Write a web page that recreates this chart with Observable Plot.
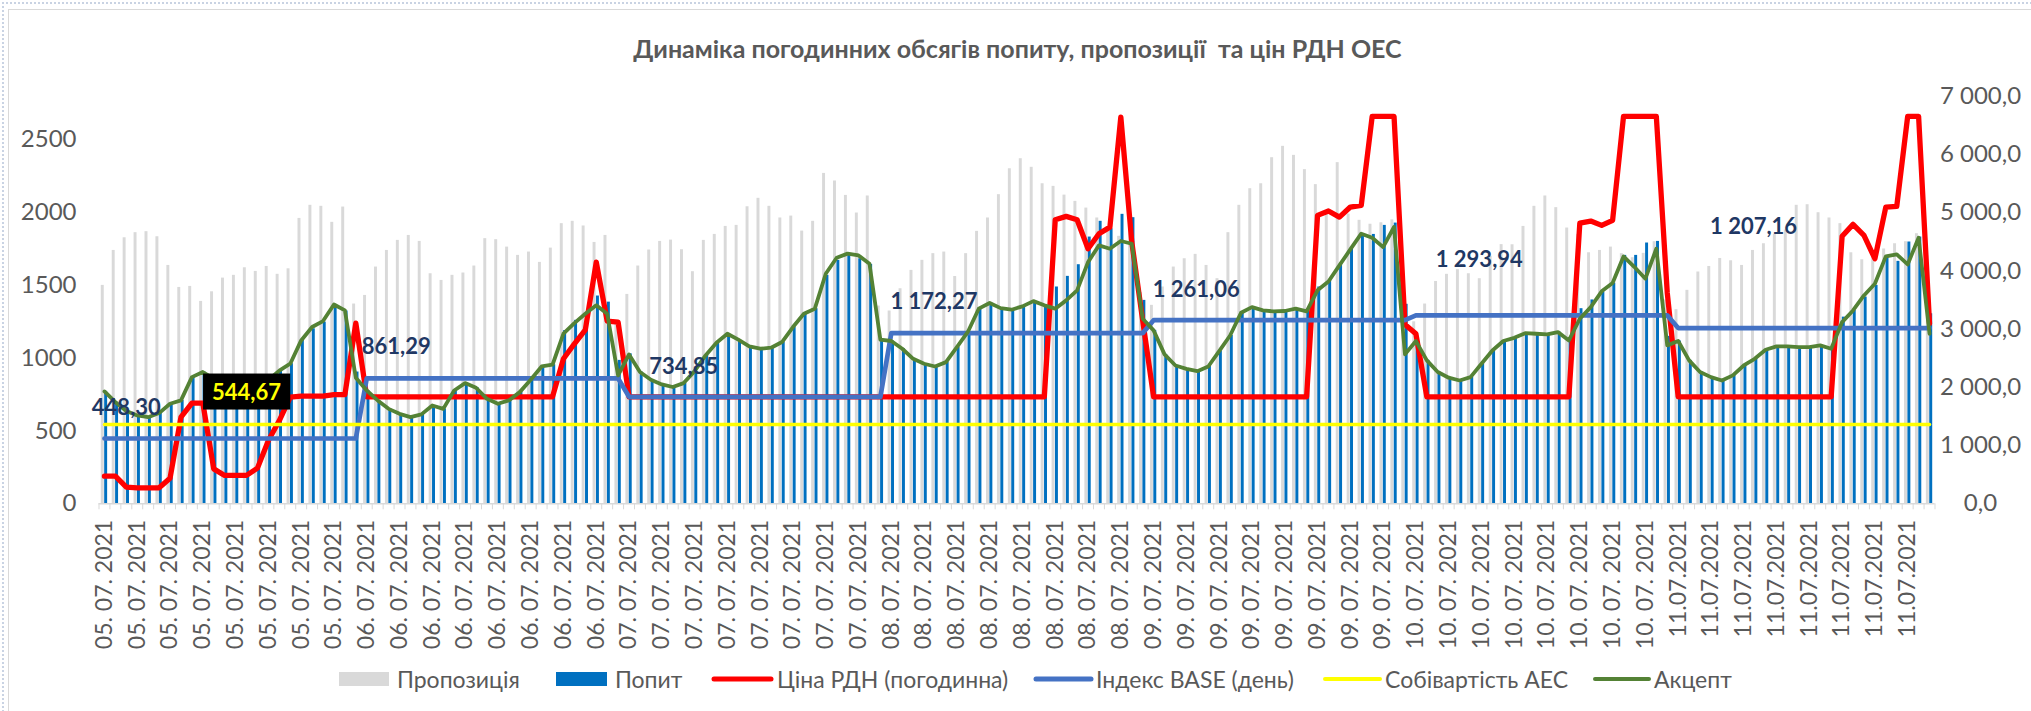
<!DOCTYPE html>
<html>
<head>
<meta charset="utf-8">
<script src="https://cdn.jsdelivr.net/npm/d3@7"></script>
<script src="https://cdn.jsdelivr.net/npm/@observablehq/plot@0.6"></script>
<style>
  html, body { margin: 0; padding: 0; background: #fff; overflow: hidden; }
  #wrap { position: relative; width: 2031px; height: 711px; font-family: Lato, "Open Sans", sans-serif; color: #595959; }
  #outer { position: absolute; left: 2px; top: 2px; width: 2040px; height: 720px; border-top: 2px dotted #c9d3e3; border-left: 2px dotted #c9d3e3; }
  #frame { position: absolute; left: 8px; top: 9px; width: 2040px; height: 720px; border-top: 1.5px solid #d9d9d9; border-left: 1.5px solid #d9d9d9; }
  #title { position: absolute; left: 0; width: 2035px; top: 33px; line-height: 30px; text-align: center; font-weight: bold; font-size: 25px; color: #595959; white-space: pre; }
  #chart { position: absolute; left: 0; top: 0; }
  #legend { position: absolute; left: 0; top: 0; }
</style>
</head>
<body>
<div id="wrap">
  <div id="outer"></div>
  <div id="frame"></div>
  <div id="chart"></div>
  <div id="title">Динаміка погодинних обсягів попиту, пропозиції  та цін РДН ОЕС</div>
  <svg id="legend" width="2031" height="711" style="font-family: Lato, 'Open Sans', sans-serif; font-size: 23px; fill: #595959;">
    <rect x="339" y="672" width="50" height="14" fill="#d9d9d9"></rect>
    <text x="397" y="679" dominant-baseline="central">Пропозиція</text>
    <rect x="556" y="672" width="51" height="14" fill="#0070c0"></rect>
    <text x="615" y="679" dominant-baseline="central">Попит</text>
    <line x1="714" x2="771" y1="679" y2="679" stroke="#ff0000" stroke-width="5" stroke-linecap="round"></line>
    <text x="777" y="679" dominant-baseline="central">Ціна РДН (погодинна)</text>
    <line x1="1036" x2="1091" y1="679" y2="679" stroke="#4472c4" stroke-width="5" stroke-linecap="round"></line>
    <text x="1096" y="679" dominant-baseline="central">Індекс BASE (день)</text>
    <line x1="1325" x2="1380" y1="679" y2="679" stroke="#ffff00" stroke-width="4" stroke-linecap="round"></line>
    <text x="1385" y="679" dominant-baseline="central">Собівартість АЕС</text>
    <line x1="1595" x2="1649" y1="679" y2="679" stroke="#548235" stroke-width="4" stroke-linecap="round"></line>
    <text x="1654" y="679" dominant-baseline="central">Акцепт</text>
  </svg>
</div>
<script>
// ---------- DATA ----------
const dayLabels = ["05. 07. 2021", "06. 07. 2021", "07. 07. 2021", "08. 07. 2021", "09. 07. 2021", "10. 07. 2021", "11.07.2021"];

// Пропозиція (supply), hourly
const supply = [
  1500,1740,1827,1862,1869,1834,1637,1486,1493,1390,1456,1550,1569,1621,1596,1630,1576,1614,1960,2050,2043,1933,2038,1372,
  1431,1626,1740,1809,1843,1802,1580,1534,1569,1585,1633,1821,1814,1763,1706,1729,1658,1756,1924,1940,1908,1795,1843,1250,
  1438,1633,1743,1802,1811,1745,1594,1809,1850,1905,1912,2040,2098,2043,1963,1976,1873,1940,2269,2217,2118,1997,2114,1358,
  1324,1477,1603,1672,1718,1729,1561,1718,1871,1963,2123,2301,2370,2311,2198,2180,2120,2077,2031,1963,1889,1837,2000,1450,
  1363,1489,1626,1683,1713,1637,1546,1862,2050,2164,2198,2377,2455,2393,2295,2192,2000,2343,1990,1947,1920,1930,1950,1370,
  1250,1372,1527,1576,1608,1580,1546,1700,1780,1779,1905,2043,2114,2034,1894,1850,1724,1740,1763,1718,1690,1720,1800,1400,
  1333,1466,1592,1630,1685,1669,1637,1740,1786,1850,1880,2050,2054,1999,1963,1924,1724,1676,1700,1750,1786,1800,1855,1305
];

// Попит (demand), hourly
const demand = [
  772,698,637,607,595,623,687,710,870,905,860,830,800,790,810,850,915,962,1122,1202,1248,1351,1324,905,
  778,710,652,618,595,614,675,652,778,829,797,721,687,710,767,852,943,955,1190,1260,1250,1427,1385,985,
  1030,905,852,820,802,829,911,1019,1106,1168,1127,1081,1065,1072,1111,1214,1305,1340,1569,1672,1706,1683,1644,1122,
  1118,1065,996,962,943,973,1076,1180,1340,1379,1344,1333,1356,1392,1363,1489,1562,1642,1832,1940,1889,1988,1965,1397,
  1191,1026,950,927,911,943,1049,1156,1312,1351,1328,1321,1324,1340,1321,1489,1534,1644,1750,1855,1850,1912,1928,1370,
  1118,985,905,866,847,870,962,1053,1118,1140,1172,1168,1163,1179,1122,1340,1400,1454,1516,1706,1706,1791,1802,1150,
  1118,985,905,870,847,882,950,996,1058,1081,1081,1076,1076,1088,1065,1282,1328,1420,1500,1699,1665,1798,1832,1305
];

// Ціна РДН (погодинна), hourly
const price = [
  190,190,115,110,110,110,176,595,692,692,240,195,195,195,245,435,572,733,740,740,740,750,750,1241,
  735,735,735,735,735,735,735,735,735,735,735,735,735,735,735,735,735,735,996,1099,1195,1660,1255,1248,
  735,735,735,735,735,735,735,735,735,735,735,735,735,735,735,735,735,735,735,735,735,735,735,735,
  735,735,735,735,735,735,735,735,735,735,735,735,735,735,735,1951,1974,1951,1752,1855,1900,2656,1800,1260,
  735,735,735,735,735,735,735,735,735,735,735,735,735,735,735,1981,2011,1969,2038,2050,2661,2661,2661,1232,
  1168,735,735,735,735,735,735,735,735,735,735,735,735,735,735,1928,1942,1912,1947,2661,2661,2661,2661,1450,
  735,735,735,735,735,735,735,735,735,735,735,735,735,735,735,1837,1919,1843,1683,2038,2043,2661,2661,1237
];

// Акцепт, hourly
const accept = [
  772,698,637,607,595,623,687,710,870,905,860,830,800,790,810,850,915,962,1122,1214,1255,1369,1328,866,
  778,710,652,618,595,614,675,652,778,829,797,721,687,710,767,852,943,955,1168,1241,1305,1363,1305,882,
  1026,905,852,820,802,829,911,1019,1106,1168,1127,1081,1065,1072,1111,1214,1305,1340,1580,1690,1718,1706,1649,1127,
  1118,1065,996,962,943,973,1076,1180,1340,1379,1344,1333,1356,1392,1363,1340,1397,1466,1660,1775,1752,1805,1786,1271,
  1191,1026,950,927,911,943,1049,1156,1312,1351,1328,1321,1324,1340,1321,1466,1527,1637,1747,1855,1827,1763,1901,1026,
  1118,985,905,866,847,870,962,1053,1118,1140,1172,1168,1163,1179,1122,1271,1351,1459,1516,1699,1626,1546,1752,1088,
  1118,985,905,870,847,882,950,996,1058,1081,1081,1076,1076,1088,1065,1248,1328,1431,1511,1699,1713,1644,1827,1168
];

// Індекс BASE (день), one per day
const baseIndex = [448.30, 861.29, 734.85, 1172.27, 1261.06, 1293.94, 1207.16];
// Собівартість АЕС
const nppCost = 544.67;

const leftTicks = [0, 500, 1000, 1500, 2000, 2500];
const rightTicks = [0, 1000, 2000, 3000, 4000, 5000, 6000, 7000];
const rightRatio = 2.5;   // secondary axis: 7000 at top vs 2800 on primary

// ---------- LAYOUT (not data) ----------
const labelHourInDay = [2, 2.7, 5, 3.9, 3.9, 5.8, 6.9];
const labelDy = [-31, -31, -30, -31, -30, -55, -101];

// ---------- BUILD ----------
const rows = supply.map((s, i) => ({
  i, day: Math.floor(i / 24),
  supply: s, demand: demand[i], price: price[i], accept: accept[i],
  index: baseIndex[Math.floor(i / 24)], npp: nppCost
}));
const nHours = supply.length;
const boundaries = d3.range(-0.5, nHours, 1);
const labelTicks = d3.range(0, nHours, 3);

const ukNum = (v, digits) => d3.format(`,.${digits}f`)(v).replace(/,/g, " ").replace(".", ",");

const W = 2031, H = 660;
const yBase = 503.3, yTop = 95.6, xLeft = 98.5, xRight = 1934.5;

const indexLabelMarks = baseIndex.map((v, k) => Plot.text([v], {
  x: () => k * 24 + labelHourInDay[k], y: d => d, dy: labelDy[k],
  text: d => ukNum(d, 2), fill: "#1f3864", fontWeight: "bold", fontSize: 22
}));

const chart = Plot.plot({
  width: W, height: H,
  marginLeft: xLeft, marginRight: W - xRight, marginTop: yTop, marginBottom: H - yBase,
  x: {type: "linear", domain: [-0.5, nHours - 0.5], label: null},
  y: {domain: [0, 2800], label: null},
  style: {fontFamily: "Lato, 'Open Sans', sans-serif", fontSize: "20px", color: "#595959", background: "transparent", overflow: "visible"},
  marks: [
    Plot.rectY(rows, {x1: d => d.i - 0.29, x2: d => d.i - 0.02, y: "supply", fill: "#d9d9d9"}),
    Plot.rectY(rows, {x1: d => d.i + 0.02, x2: d => d.i + 0.29, y: "demand", fill: "#0070c0"}),
    Plot.ruleY([0], {stroke: "#d9d9d9", strokeWidth: 1.5}),
    Plot.axisX({ticks: boundaries, tickSize: 6, tickFormat: () => "", stroke: "#d9d9d9", strokeOpacity: 1}),
    Plot.axisX({ticks: labelTicks, tickSize: 0, tickPadding: 16, tickRotate: -90,
      tickFormat: i => dayLabels[Math.floor(i / 24)], fill: "#595959", fontSize: 23}),
    Plot.axisY({ticks: leftTicks, tickSize: 0, tickPadding: 22.5, tickFormat: d => String(d), fill: "#595959", fontSize: 24}),
    Plot.axisY({anchor: "right", ticks: rightTicks.map(v => v / rightRatio), tickSize: 0, tickPadding: 45.5,
      textAnchor: "middle", tickFormat: v => ukNum(v * rightRatio, 1), fill: "#595959", fontSize: 24}),
    Plot.line(rows, {x: "i", y: "price", stroke: "#ff0000", strokeWidth: 5.3, strokeLinejoin: "round", strokeLinecap: "round"}),
    Plot.line(rows, {x: "i", y: "index", stroke: "#4472c4", strokeWidth: 4.7, strokeLinejoin: "round", strokeLinecap: "round"}),
    Plot.line(rows, {x: "i", y: "npp", stroke: "#ffff00", strokeWidth: 3.5, strokeLinecap: "round"}),
    Plot.line(rows, {x: "i", y: "accept", stroke: "#548235", strokeWidth: 3.8, strokeLinejoin: "round", strokeLinecap: "round"}),
    ...indexLabelMarks,
    Plot.text([nppCost], {
      x: () => 13, y: v => v, dy: -31.5, text: v => ukNum(v, 2),
      fill: "#ffff00", fontWeight: "bold", fontSize: 22, className: "npp-label"
    })
  ]
});
document.getElementById("chart").appendChild(chart);

// black box behind the NPP-cost label
d3.select(chart).selectAll("g.npp-label text").each(function() {
  const bb = this.getBBox();
  const padX = 9, padY = 4.5;
  const r = document.createElementNS("http://www.w3.org/2000/svg", "rect");
  r.setAttribute("x", bb.x - padX); r.setAttribute("y", bb.y - padY);
  r.setAttribute("width", bb.width + 2 * padX); r.setAttribute("height", bb.height + 2 * padY);
  r.setAttribute("fill", "#000");
  const tr = this.getAttribute("transform"); if (tr) r.setAttribute("transform", tr);
  this.parentNode.insertBefore(r, this);
});
</script>
</body>
</html>
